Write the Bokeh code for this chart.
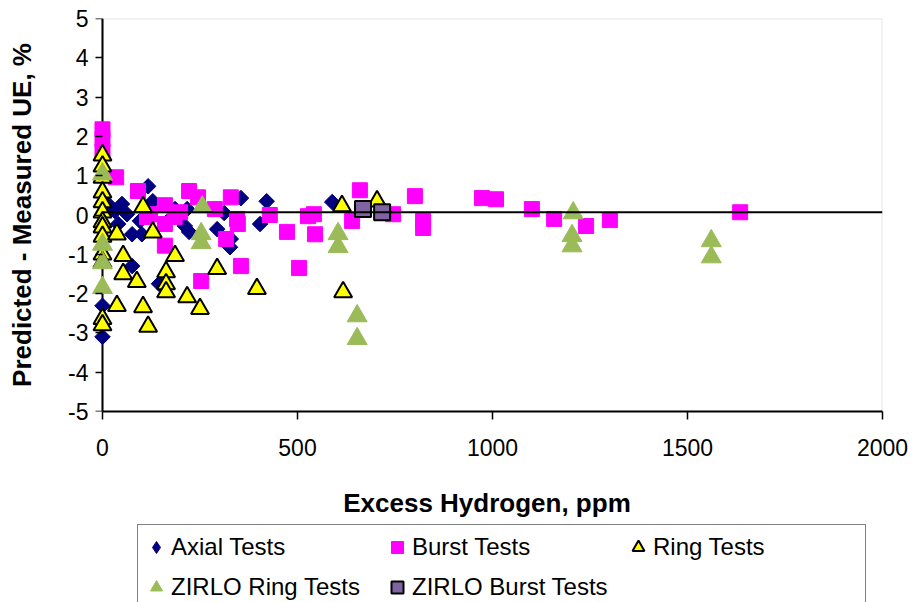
import numpy as np
from bokeh.plotting import figure
from bokeh.layouts import column
from bokeh.models import (Range1d, FixedTicker, Span, BoxAnnotation, Legend, LegendItem,
                          LinearAxis)
from bokeh.embed import file_html
from bokeh.resources import INLINE

# ---- data -------------------------------------------------------------
x_ticks = [0, 500, 1000, 1500, 2000]
y_ticks = [-5, -4, -3, -2, -1, 0, 1, 2, 3, 4, 5]
mean_bias = 0.07

axial_x = [0, 0, 0, 0, 14, 32, 50, 40, 63, 76, 76, 96, 101, 117, 129, 145, 165, 186,
           222, 217, 211, 312, 355, 421, 404, 294, 329, 327, 589]
axial_y = [-2.31, -3.10, 0.02, -0.23, 0.28, 0.10, 0.28, -0.23, 0.02, -0.49, -1.30, -0.15,
           -0.49, 0.73, 0.35, -1.75, -0.18, 0.15, -0.43, 0.15, -0.28, 0.05, 0.43, 0.35,
           -0.23, -0.36, -0.61, -0.82, 0.33]

burst_x = [0, 0, 0, 35, 91, 160, 122, 160, 160, 199, 222, 245, 288, 329, 345, 347, 317,
           429, 253, 355, 473, 504, 527, 542, 545, 640, 660, 745, 801, 822, 822, 973,
           1009, 1101, 1158, 1240, 1301, 1635, 114, 185]
burst_y = [2.18, 1.93, 1.62, 0.96, 0.61, 0.25, 0.02, -0.23, -0.78, 0.07, 0.61, 0.45, 0.15,
           0.45, -0.10, -0.23, -0.61, 0.00, -1.68, -1.30, -0.43, -1.35, -0.03, 0.02, -0.49,
           -0.15, 0.63, 0.02, 0.48, -0.15, -0.33, 0.43, 0.40, 0.15, -0.10, -0.28, -0.13,
           0.07, -0.05, -0.05]

ring_x = [0, 0, 0, 0, 0, 0, 0, 0, 0, 0, 0, 0, 0,
          37, 53, 53, 37, 88, 104, 104, 117, 129, 163, 163, 163, 186, 217, 250, 294,
          396, 614, 617, 704]
ring_y = [1.52, 1.24, 0.95, 0.58, 0.33, 0.07, -0.18, -0.31, -0.55, -1.00, -1.20, -2.64,
          -2.80,
          -0.49, -1.04, -1.50, -2.31, -1.70, 0.20, -2.34, -2.84, -0.44, -1.45, -1.76,
          -1.96, -1.04, -2.09, -2.39, -1.37, -1.88, 0.23, -1.96, 0.35]

zirlo_ring_x = [0, 0, 0, 0, 256, 253, 253, 604, 604, 653, 653, 1207, 1204, 1204, 1561, 1561]
zirlo_ring_y = [1.04, -0.75, -1.22, -1.85, 0.20, -0.48, -0.71, -0.48, -0.81, -2.57, -3.15,
                0.05, -0.53, -0.79, -0.66, -1.07]

zirlo_burst_x = [668, 717]
zirlo_burst_y = [0.15, 0.07]

series_labels = ["Axial Tests", "Burst Tests", "Ring Tests", "ZIRLO Ring Tests",
                 "ZIRLO Burst Tests"]

FONT = "Liberation Sans"

# marker styles shared by the chart and the legend strip
styles = [
    dict(marker="square", angle=np.pi / 4, fill_color="#000080", line_color="#000080"),
    dict(marker="square", fill_color="#FF00FF", line_color="#FF00FF"),
    dict(marker="triangle", fill_color="#FFFF00", line_color="black", line_width=2),
    dict(marker="triangle", fill_color="#9BBB59", line_color="#9BBB59"),
    dict(marker="square", fill_color="#8064A2", line_color="black", line_width=2),
]
sizes = [11, 15, 18, 20, 16]
series = [(axial_x, axial_y), (burst_x, burst_y), (ring_x, ring_y),
          (zirlo_ring_x, zirlo_ring_y), (zirlo_burst_x, zirlo_burst_y)]

# ---- chart ------------------------------------------------------------
# a little room left of x = 0 so the markers sitting on the axis are not clipped
p = figure(width=914, height=520, output_backend="svg", toolbar_location=None,
           x_range=Range1d(-28.2, x_ticks[-1]), y_range=Range1d(y_ticks[0], y_ticks[-1]),
           min_border_left=91, min_border_right=32, min_border_top=18,
           min_border_bottom=107)
p.grid.visible = False
p.outline_line_color = None
p.background_fill_color = "white"
p.border_fill_color = "white"

# plot-area frame (grey) and the vertical axis line at x = 0
p.add_layout(BoxAnnotation(left=x_ticks[0], right=x_ticks[-1], bottom=y_ticks[0],
                           top=y_ticks[-1], fill_alpha=0, line_color="#A6A6A6",
                           line_width=2, level="image"))
p.add_layout(Span(location=x_ticks[0], dimension="height", line_color="black",
                  line_width=2, level="underlay"))

# x axis
xa = p.xaxis[0]
xa.ticker = FixedTicker(ticks=x_ticks)
xa.bounds = (x_ticks[0], x_ticks[-1])
xa.axis_line_width = 2
xa.axis_line_color = "black"
xa.major_tick_out = 8
xa.major_tick_in = 0
xa.major_tick_line_width = 1.5
xa.major_tick_line_color = "black"
xa.minor_tick_line_color = None
xa.major_label_text_font = FONT
xa.major_label_text_font_size = "23px"
xa.major_label_text_color = "black"
xa.major_label_standoff = 19
xa.axis_label = "Excess Hydrogen, ppm"
xa.axis_label_text_font = FONT
xa.axis_label_text_font_size = "26px"
xa.axis_label_text_font_style = "bold"
xa.axis_label_text_color = "black"
xa.axis_label_standoff = 29

# y axis: labels and title on the left (plain hyphen for negatives)
ya = p.yaxis[0]
ya.ticker = FixedTicker(ticks=y_ticks)
ya.major_label_overrides = {t: str(t) for t in y_ticks}
ya.axis_line_color = None
ya.major_tick_out = 0
ya.major_tick_in = 0
ya.minor_tick_line_color = None
ya.major_label_text_font = FONT
ya.major_label_text_font_size = "23px"
ya.major_label_text_color = "black"
ya.major_label_standoff = 3
ya.axis_label = "Predicted - Measured UE, %"
ya.axis_label_text_font = FONT
ya.axis_label_text_font_size = "26px"
ya.axis_label_text_font_style = "bold"
ya.axis_label_text_color = "black"
ya.axis_label_standoff = 28

# y tick marks drawn at x = 0
ytick_axis = LinearAxis(fixed_location=x_ticks[0], ticker=FixedTicker(ticks=y_ticks),
                        axis_line_color=None, major_tick_in=7, major_tick_out=0,
                        major_tick_line_width=1.5, major_tick_line_color="black",
                        minor_tick_line_color=None, major_label_text_font_size="0px",
                        major_label_text_color=None)
p.add_layout(ytick_axis, "right")

# ---- series -------------------------------------------------------------
for (xs, ys), st, sz in zip(series, styles, sizes):
    p.scatter(xs, ys, size=sz, **st)

# mean bias line across the full hydrogen range
p.line([x_ticks[0], x_ticks[-1]], [mean_bias, mean_bias], line_color="black", line_width=2)

# ---- legend strip -----------------------------------------------------
# the swatch renderers reuse the series data; the ranges keep them off-screen
leg_fig = figure(width=914, height=82, output_backend="svg", toolbar_location=None,
                 x_range=Range1d(10000, 10001), y_range=Range1d(10000, 10001),
                 x_axis_type=None, y_axis_type=None, min_border=0)
leg_fig.grid.visible = False
leg_fig.outline_line_color = None
leg_fig.background_fill_color = "white"
leg_fig.border_fill_color = "white"

legend_styles = [dict(styles[0], marker="diamond", angle=0)] + styles[1:]
items = []
for label, (xs, ys), st in zip(series_labels, series, legend_styles):
    r = leg_fig.scatter(xs, ys, size=12, **st)
    items.append(LegendItem(label=label, renderers=[r]))

# legend frame is aligned with the chart frame (left edge at 91 px)
legend = Legend(items=items, location=(46, -8), orientation="horizontal", ncols=3,
                glyph_width=30, glyph_height=38, label_standoff=0, label_width=209,
                spacing=2, padding=3, margin=0,
                border_line_color="black", border_line_width=1,
                background_fill_color="white", background_fill_alpha=1,
                label_text_font=FONT, label_text_font_size="24px",
                label_text_color="black")
leg_fig.add_layout(legend, "center")

page = column(p, leg_fig, spacing=0)
open("out.html", "w").write(file_html(page, INLINE))
